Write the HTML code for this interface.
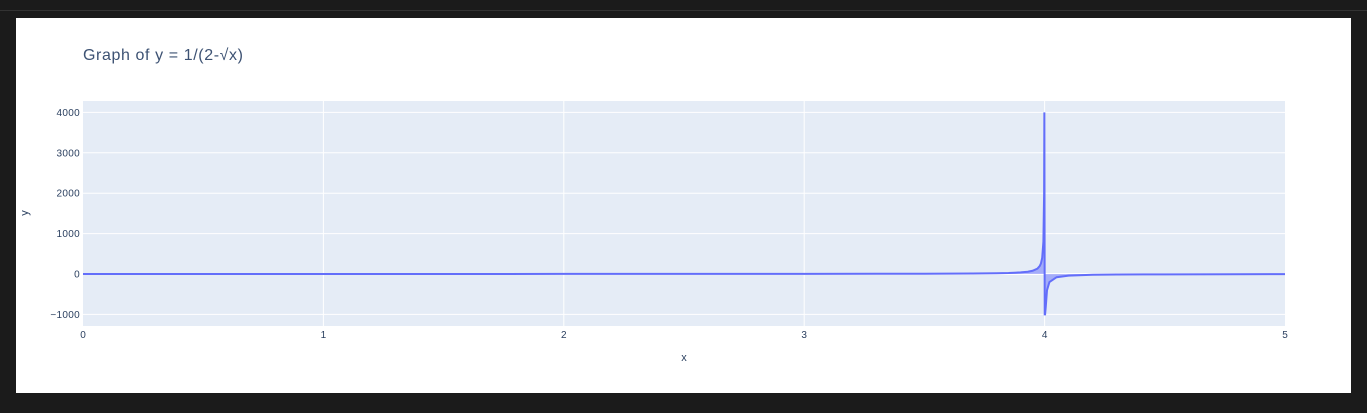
<!DOCTYPE html>
<html><head><meta charset="utf-8"><style>
html,body{margin:0;padding:0;width:1367px;height:413px;background:#1b1b1b;overflow:hidden}
#topline{position:absolute;left:0;top:10px;width:1367px;height:1px;background:#333}
#panel{position:absolute;left:16px;top:18px;width:1335px;height:375px;background:#fff}
svg{position:absolute;left:0;top:0}
text{font-family:"Liberation Sans",sans-serif}
</style></head><body>
<div id="topline"></div>
<div id="panel"></div>
<svg id="chart" width="1367" height="413">
<text x="83" y="60" font-size="16" letter-spacing="0.6" fill="#3d5273">Graph of y = 1/(2-√x)</text>
<rect x="83" y="101" width="1202" height="225" fill="#e5ecf6"/>
<g id="grid"></g>
<g id="series"></g>
<g id="ticks"></g>
<text x="684" y="361" font-size="11" fill="#2a3f5f" text-anchor="middle">x</text>
<text transform="translate(28,213) rotate(-90)" font-size="11" fill="#2a3f5f" text-anchor="middle">y</text>
</svg>
<script>
const xTicks=[0,1,2,3,4,5];
const yTicks=[-1000,0,1000,2000,3000,4000];
const yTickLabels=["−1000","0","1000","2000","3000","4000"];
const xs=[0,0.5,1,1.5,2,2.5,3,3.3,3.5,3.7,3.8,3.85,3.9,3.93,3.95,3.97,3.98,3.985,3.99,3.995,3.998,3.999,4.0005,4.001,4.002,4.005,4.01,4.02,4.05,4.1,4.2,4.3,4.5,4.75,5];
const ys=[0.5,0.74,1,1.29,1.71,2.39,3.73,5.1,7.46,12.9,19.5,25.8,39.5,56.5,79.5,132.8,199.5,266,399.5,800,2000,4000,-1000,-1000,-1000,-800,-400,-200,-80,-40,-20,-13.5,-8.2,-5.7,-4.24];
const X=v=>83+(v-0)*(1202/5);
const Y=v=>274-v*0.0404;
const NS="http://www.w3.org/2000/svg";
const grid=document.getElementById('grid'),ticks=document.getElementById('ticks'),ser=document.getElementById('series');
xTicks.forEach((t,i)=>{
  if(i>0&&i<xTicks.length-1){const l=document.createElementNS(NS,'line');
  l.setAttribute('x1',X(t));l.setAttribute('x2',X(t));l.setAttribute('y1',101);l.setAttribute('y2',326);
  l.setAttribute('stroke','#fff');l.setAttribute('stroke-width','1');
  
  
  grid.appendChild(l);}
  const tx=document.createElementNS(NS,'text');
  tx.setAttribute('x',X(t));tx.setAttribute('y',338);tx.setAttribute('font-size','10');tx.setAttribute('fill','#2a3f5f');tx.setAttribute('text-anchor','middle');
  tx.textContent=t;
  
  
  ticks.appendChild(tx);
});
yTicks.forEach((t,i)=>{
  const l=document.createElementNS(NS,'line');
  l.setAttribute('x1',83);l.setAttribute('x2',1285);l.setAttribute('y1',Y(t));l.setAttribute('y2',Y(t));
  l.setAttribute('stroke','#fff');l.setAttribute('stroke-width',t===0?'2':'1');
  
  
  grid.appendChild(l);
  const tx=document.createElementNS(NS,'text');
  tx.setAttribute('x',80);tx.setAttribute('y',Y(t)+3.5);tx.setAttribute('font-size','10');tx.setAttribute('letter-spacing','0.3');tx.setAttribute('fill','#2a3f5f');tx.setAttribute('text-anchor','end');
  tx.textContent=yTickLabels[i];
  
  
  ticks.appendChild(tx);
});
let d='';xs.forEach((x,i)=>{d+=(i?'L':'M')+X(x).toFixed(2)+','+Y(ys[i]).toFixed(2);});
const fill=document.createElementNS(NS,'path');
fill.setAttribute('d',d+'L'+X(xs[xs.length-1])+','+Y(0)+'L'+X(xs[0])+','+Y(0)+'Z');
fill.setAttribute('fill','rgba(99,110,250,0.5)');


ser.appendChild(fill);
const line=document.createElementNS(NS,'path');
line.setAttribute('d',d);line.setAttribute('fill','none');line.setAttribute('stroke','#636efa');line.setAttribute('stroke-width','2');


ser.appendChild(line);
</script>
</body></html>
